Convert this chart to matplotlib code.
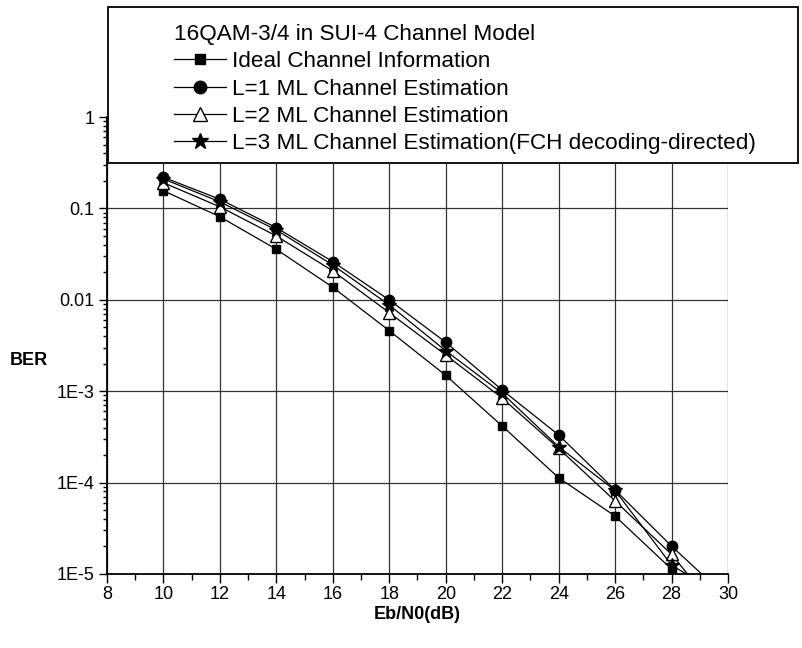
import matplotlib
matplotlib.use("Agg")
import matplotlib.pyplot as plt
from matplotlib.patches import Rectangle
from matplotlib.ticker import FixedLocator, FixedFormatter, LogLocator, NullFormatter

plt.rcParams['font.family'] = ['Liberation Sans', 'DejaVu Sans']

# Eb/N0 points (dB); the last point lies below the plotted BER floor
ebn0 = [10, 12, 14, 16, 18, 20, 22, 24, 26, 28, 30]

ber_ideal = [0.156, 0.081, 0.0357, 0.0137, 0.00459, 1.49e-3, 4.16e-4, 1.13e-4, 4.3e-5, 1.13e-5, 3.5e-6]
ber_l1 = [0.219, 0.126, 0.0615, 0.0261, 0.00995, 3.43e-3, 1.03e-3, 3.32e-4, 8.3e-5, 2.02e-5, 5.4e-6]
ber_l2 = [0.191, 0.104, 0.0499, 0.0207, 0.00722, 2.49e-3, 8.4e-4, 2.37e-4, 6.3e-5, 1.64e-5, 2.85e-6]
ber_l3 = [0.21, 0.118, 0.058, 0.024, 0.00877, 2.77e-3, 9.5e-4, 2.47e-4, 8.2e-5, 1.25e-5, 5.3e-6]

labels = ['Ideal Channel Information',
          'L=1 ML Channel Estimation',
          'L=2 ML Channel Estimation',
          'L=3 ML Channel Estimation(FCH decoding-directed)']
legend_title = '16QAM-3/4 in SUI-4 Channel Model'

yticks = [1e-5, 1e-4, 1e-3, 1e-2, 1e-1, 1]
ytick_labels = ['1E-5', '1E-4', '1E-3', '0.01', '0.1', '1']
xticks = [8, 10, 12, 14, 16, 18, 20, 22, 24, 26, 28, 30]

W, H = 803, 648
fig = plt.figure(figsize=(W / 100, H / 100), dpi=100)
ax = fig.add_axes([107 / W, 74 / H, 621 / W, 457 / H])

styles = [
    dict(marker='s', ms=6, mfc='k'),
    dict(marker='o', ms=7.5, mfc='k'),
    dict(marker='^', ms=8, mfc='white'),
    dict(marker='*', ms=10, mfc='k'),
]
series = [ber_ideal, ber_l1, ber_l2, ber_l3]
handles = []
for ys, st, lab in zip(series, styles, labels):
    h, = ax.plot(ebn0, ys, color='k', lw=0.9, mec='k', mew=1.0,
                 label=lab, zorder=3, **st)
    handles.append(h)

ax.set_yscale('log')
ax.set_xlim(8, 30)
ax.set_ylim(1e-5, 1)

ax.xaxis.set_major_locator(FixedLocator(xticks))
ax.xaxis.set_minor_locator(FixedLocator(list(range(9, 30, 2))))
ax.yaxis.set_major_locator(FixedLocator(yticks))
ax.yaxis.set_major_formatter(FixedFormatter(ytick_labels))
ax.yaxis.set_minor_locator(LogLocator(base=10, subs=range(2, 10), numticks=20))
ax.yaxis.set_minor_formatter(NullFormatter())

ax.tick_params(axis='both', which='major', labelsize=13, width=1.0, color='k')
ax.tick_params(axis='x', which='major', direction='out', length=6.5, pad=2)
ax.tick_params(axis='x', which='minor', direction='out', length=4.5, width=1.0)
ax.tick_params(axis='y', which='major', direction='out', length=6, pad=3)
ax.tick_params(axis='y', which='minor', direction='out', length=3, width=1.0)

ax.grid(True, which='major', color='#333333', lw=0.9)
ax.set_axisbelow(True)
for side in ('top', 'right'):
    ax.spines[side].set_visible(False)
for side in ('left', 'bottom'):
    ax.spines[side].set_linewidth(1.3)

ax.set_xlabel('Eb/N0(dB)', fontsize=13, fontweight='bold', labelpad=2)
ax.set_ylabel('BER', fontsize=13, fontweight='bold', rotation=0, va='center')
ax.yaxis.set_label_coords(-0.126, 0.468)

# boxed legend spanning above the plot area
box = Rectangle((108 / W, 1 - 163 / H), 690 / W, 156 / H, transform=fig.transFigure,
                facecolor='white', edgecolor='k', lw=1.3, zorder=4)
fig.patches.append(box)

leg = fig.legend(handles=handles, loc='upper left',
                 bbox_to_anchor=(174 / W, 1 - 24 / H),
                 title=legend_title, title_fontsize=16.2, fontsize=16.2,
                 frameon=False, alignment='left', handlelength=2.3,
                 handletextpad=0.3, labelspacing=0.28, borderpad=0,
                 borderaxespad=0, markerscale=1.2)
leg.set_zorder(5)

fig.savefig('out.png', dpi=100)
